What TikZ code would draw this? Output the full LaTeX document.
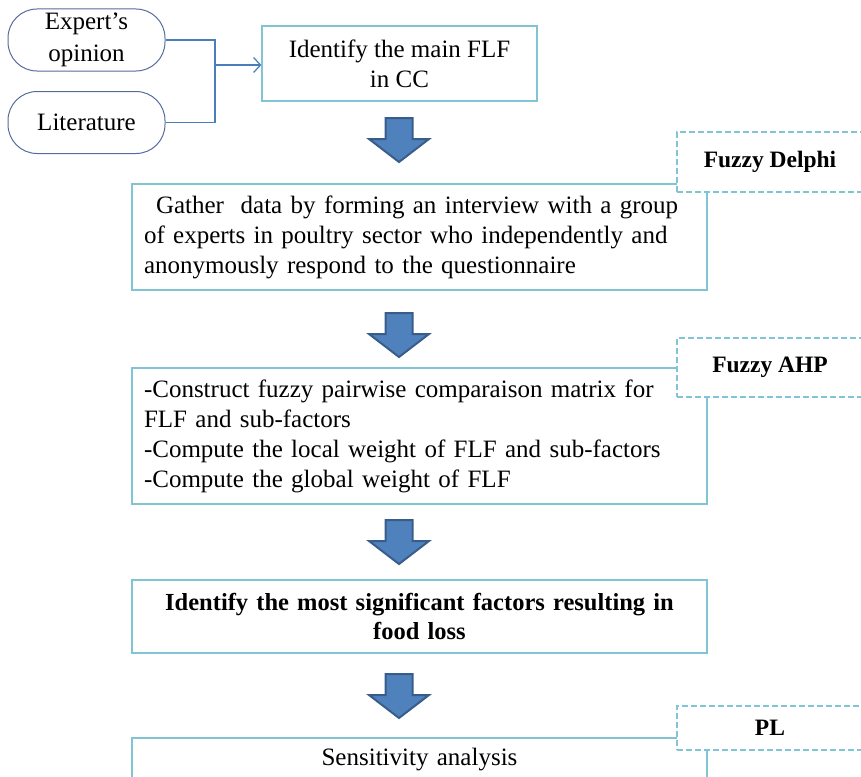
\documentclass[tikz,border=0pt]{standalone}
\usepackage{fontspec}
\setmainfont{Liberation Serif}
\usetikzlibrary{arrows.meta}
\definecolor{boxline}{RGB}{128,196,214}
\definecolor{srcline}{RGB}{84,108,156}
\definecolor{linkblue}{RGB}{74,126,187}
\definecolor{arrowfill}{RGB}{79,129,189}
\definecolor{arrowedge}{RGB}{56,93,138}
\begin{document}
\begin{tikzpicture}[x=1pt,y=-1pt,
  every node/.style={font=\fontsize{25}{30}\selectfont},
  srcbox/.style={draw=srcline,line width=1pt,rounded corners=29pt,minimum width=157,minimum height=62,align=center,inner sep=0pt,font=\fontsize{25}{32}\selectfont},
  stepbox/.style={draw=boxline,line width=1.2pt,fill=white,inner xsep=12pt,inner ysep=0pt,text width=551pt},
  tagbox/.style={draw=boxline,line width=1.2pt,dashed,dash pattern=on 6pt off 3pt,fill=white,minimum width=186,font=\fontsize{23.5}{29}\selectfont\bfseries},
  downarrow/.pic={\draw[draw=arrowedge,fill=arrowfill,line width=2pt,line join=miter]
    (-13.5,0) -- (13.5,0) -- (13.5,21) -- (30,21) -- (0,44) -- (-30,21) -- (-13.5,21) -- cycle;}]
% flow of the study, top to bottom
\clip (0,0) rectangle (861,776);
\node[srcbox] (expert) at (86.5,40) {Expert's\\opinion};
\node[srcbox] (lit) at (86.5,122.5) {Literature};
\node[draw=boxline,line width=1.2pt,minimum width=275,minimum height=75,align=center,inner sep=0pt] (flf) at (399.5,63.5) {Identify the main FLF\\in CC};
\coordinate (join) at (215,65);
\draw[linkblue,line width=1.2pt] (expert.east) -| (join) |- (lit.east);
\draw[linkblue,line width=1.2pt,-{Straight Barb[length=7pt,width=15pt]}] (join) -- (join -| flf.west);

\node[stepbox,minimum height=106,align=left] (gather) at (419.5,237) {\hspace*{12pt}Gather~ data by forming an interview with a group\\of experts in poultry sector who independently and\\anonymously respond to the questionnaire};
\node[stepbox,minimum height=136,align=left] (ahp) at (419.5,436) {-Construct fuzzy pairwise comparaison matrix for\\FLF and sub-factors\\-Compute the local weight of FLF and sub-factors\\-Compute the global weight of FLF};
\node[stepbox,minimum height=73,align=center,font=\fontsize{24.5}{29}\selectfont\bfseries] (signif) at (419.5,616.5) {Identify the most significant factors resulting in\\food loss};
\node[stepbox,minimum height=44,align=center] (sens) at (419.5,760) {Sensitivity analysis};

\node[tagbox,minimum height=60] (delphi) at (770,162) {Fuzzy Delphi};
\node[tagbox,minimum height=59] (fahp) at (770,367.5) {Fuzzy AHP};
\node[tagbox,minimum height=44] (pl) at (770,728) {PL};

\foreach \y in {118,313,520,674}
  \path (399,\y) pic {downarrow};
\end{tikzpicture}
\end{document}
